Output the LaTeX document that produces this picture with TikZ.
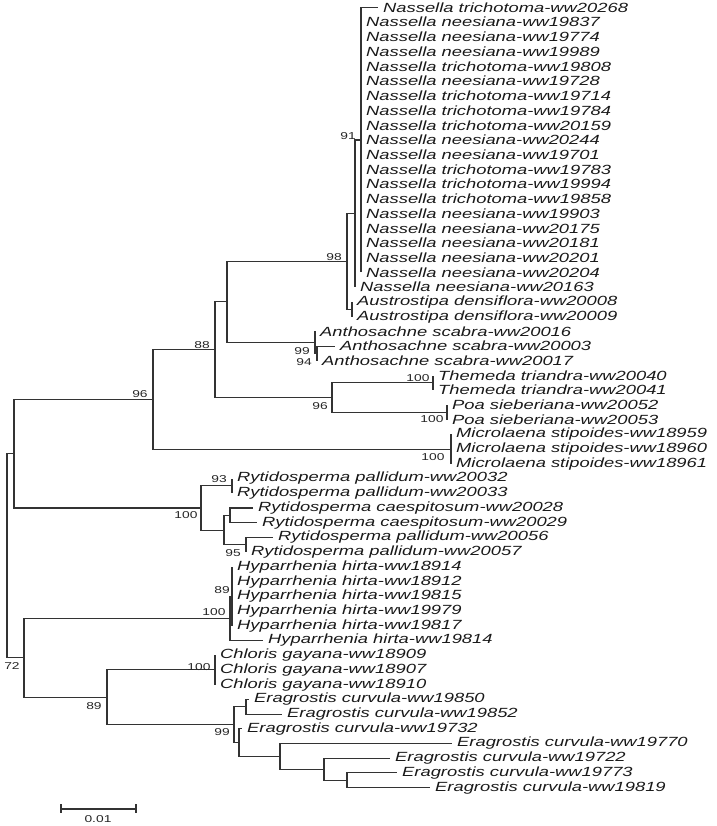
\documentclass[tikz,border=0pt]{standalone}
\usepackage{fontspec}
\setmainfont{Liberation Sans}
\newfontfamily\labfont{Liberation Sans}[FakeStretch=1.38]
\begin{document}
\begin{tikzpicture}[x=1pt,y=-1pt,
  br/.style={draw=black!80,line width=1.1pt},
  tip/.style={anchor=west,inner sep=0pt,xshift=5pt,text=black!90,font={\labfont\itshape\fontsize{13.3}{14}\selectfont}},
  boot/.style={inner sep=0pt,text=black!85,font={\labfont\fontsize{10}{11}\selectfont}}]
\useasboundingbox (0,0) rectangle (716,826);
% tips
\foreach \i/\x in {1/378,2/361,3/361,4/361,5/361,6/361,7/361,8/361,9/361,10/361,
  11/361,12/361,13/361,14/361,15/361,16/361,17/361,18/361,19/361,20/355,
  21/352,22/352,23/315,24/335,25/317,26/433,27/433,28/447,29/447,30/451,
  31/451,32/451,33/232,34/232,35/253,36/257,37/273,38/246,39/232,40/232,
  41/232,42/232,43/232,44/263,45/215,46/215,47/215,48/249,49/282,50/242,
  51/452,52/390,53/397,54/430}
  \coordinate (t\i) at (\x,{7.5+14.72*(\i-1)});
% internal nodes
\coordinate (F) at (361,139.98);
\coordinate (E) at (355,213.58);
\coordinate (AU) at (352,309.26);
\coordinate (D) at (347,261.42);
\coordinate (Xp) at (317,353.42);
\coordinate (X) at (315,342.38);
\coordinate (Cp) at (227,301.9);
\coordinate (U) at (433,382.86);
\coordinate (V) at (447,412.3);
\coordinate (W) at (332,397.58);
\coordinate (C) at (215,349.74);
\coordinate (MI) at (451,449.1);
\coordinate (B) at (153,399.42);
\coordinate (Q) at (232,485.9);
\coordinate (S) at (230,515.34);
\coordinate (T) at (246,544.78);
\coordinate (R) at (224,530.06);
\coordinate (P) at (201,507.98);
\coordinate (A) at (14,453.7);
\coordinate (Hp) at (232,596.3);
\coordinate (H) at (230,618.38);
\coordinate (CH) at (215,669.9);
\coordinate (K) at (246,706.7);
\coordinate (O) at (347,780.3);
\coordinate (N) at (324,769.26);
\coordinate (M) at (280,756.38);
\coordinate (L) at (239,742.58);
\coordinate (J) at (234,724.64);
\coordinate (I) at (107,697.27);
\coordinate (G) at (24,657.82);
\coordinate (root) at (7,555.76);
% branches
\foreach \p/\c in {root/A,root/G,A/B,A/P,B/C,B/MI,C/Cp,C/W,Cp/D,Cp/X,D/E,D/AU,
  E/F,E/t20,AU/t21,AU/t22,X/t23,X/Xp,Xp/t24,Xp/t25,W/U,W/V,U/t26,U/t27,V/t28,V/t29,
  MI/t30,MI/t31,MI/t32,P/Q,P/R,Q/t33,Q/t34,R/S,R/T,S/t35,S/t36,T/t37,T/t38,
  G/H,G/I,H/Hp,H/t44,I/CH,I/J,CH/t45,CH/t46,CH/t47,J/K,J/L,K/t48,K/t49,
  L/t50,L/M,M/t51,M/N,N/t52,N/O,O/t53,O/t54}
  \draw[br] (\p) |- (\c);
\foreach \i in {1,...,19} \draw[br] (F) |- (t\i);
\foreach \i in {39,...,43} \draw[br] (Hp) |- (t\i);
% tip labels
\foreach \i/\txt in {1/Nassella trichotoma-ww20268,2/Nassella neesiana-ww19837,
  3/Nassella neesiana-ww19774,4/Nassella neesiana-ww19989,5/Nassella trichotoma-ww19808,
  6/Nassella neesiana-ww19728,7/Nassella trichotoma-ww19714,8/Nassella trichotoma-ww19784,
  9/Nassella trichotoma-ww20159,10/Nassella neesiana-ww20244,11/Nassella neesiana-ww19701,
  12/Nassella trichotoma-ww19783,13/Nassella trichotoma-ww19994,14/Nassella trichotoma-ww19858,
  15/Nassella neesiana-ww19903,16/Nassella neesiana-ww20175,17/Nassella neesiana-ww20181,
  18/Nassella neesiana-ww20201,19/Nassella neesiana-ww20204,20/Nassella neesiana-ww20163,
  21/Austrostipa densiflora-ww20008,22/Austrostipa densiflora-ww20009,
  23/Anthosachne scabra-ww20016,24/Anthosachne scabra-ww20003,25/Anthosachne scabra-ww20017,
  26/Themeda triandra-ww20040,27/Themeda triandra-ww20041,
  28/Poa sieberiana-ww20052,29/Poa sieberiana-ww20053,
  30/Microlaena stipoides-ww18959,31/Microlaena stipoides-ww18960,32/Microlaena stipoides-ww18961,
  33/Rytidosperma pallidum-ww20032,34/Rytidosperma pallidum-ww20033,
  35/Rytidosperma caespitosum-ww20028,36/Rytidosperma caespitosum-ww20029,
  37/Rytidosperma pallidum-ww20056,38/Rytidosperma pallidum-ww20057,
  39/Hyparrhenia hirta-ww18914,40/Hyparrhenia hirta-ww18912,41/Hyparrhenia hirta-ww19815,
  42/Hyparrhenia hirta-ww19979,43/Hyparrhenia hirta-ww19817,44/Hyparrhenia hirta-ww19814,
  45/Chloris gayana-ww18909,46/Chloris gayana-ww18907,47/Chloris gayana-ww18910,
  48/Eragrostis curvula-ww19850,49/Eragrostis curvula-ww19852,50/Eragrostis curvula-ww19732,
  51/Eragrostis curvula-ww19770,52/Eragrostis curvula-ww19722,53/Eragrostis curvula-ww19773,
  54/Eragrostis curvula-ww19819}
  \node[tip] (n\i) at (t\i) {\txt};
% bootstrap values
\node[boot] (bF) at (348,136) {91};
\node[boot] (bD) at (334,257) {98};
\node[boot] (bC) at (202,345) {88};
\node[boot] (bX) at (302,351) {99};
\node[boot] (bXp) at (304,362) {94};
\node[boot] (bW) at (320,406) {96};
\node[boot] (bU) at (418,378) {100};
\node[boot] (bV) at (432,419) {100};
\node[boot] (bB) at (140,394) {96};
\node[boot] (bMI) at (433,457) {100};
\node[boot] (bQ) at (219,479) {93};
\node[boot] (bP) at (186,515) {100};
\node[boot] (bT) at (233,553) {95};
\node[boot] (bHp) at (222,590) {89};
\node[boot] (bH) at (214,612) {100};
\node[boot] (bCH) at (199,667) {100};
\node[boot] (bG) at (12,666) {72};
\node[boot] (bI) at (94,706) {89};
\node[boot] (bJ) at (222,732) {99};
% scale bar
\coordinate (sb1) at (61,809);
\coordinate (sb2) at (136,809);
\coordinate (sb1t) at (61,804);
\coordinate (sb1b) at (61,813);
\coordinate (sb2t) at (136,804);
\coordinate (sb2b) at (136,813);
\draw[br] (sb1) -- (sb2);
\draw[br] (sb1t) -- (sb1b);
\draw[br] (sb2t) -- (sb2b);
\node[boot] (sbl) at (98,819) {0.01};
\end{tikzpicture}
\end{document}
